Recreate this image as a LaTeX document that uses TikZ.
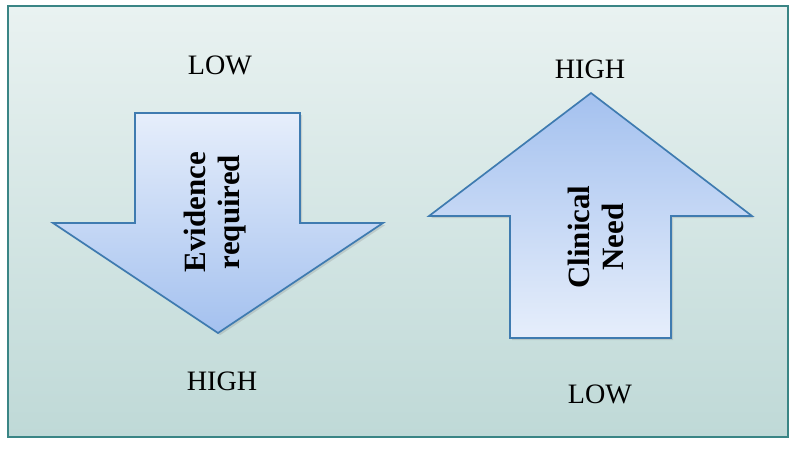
\documentclass[tikz,border=0pt]{standalone}
\usepackage{fontspec}
\setmainfont{Liberation Serif}
\usepackage{tikz}
\usetikzlibrary{shadows}

\definecolor{panelTop}{HTML}{E9F2F1}
\definecolor{panelBot}{HTML}{BFD9D7}
\definecolor{panelLine}{HTML}{3A8585}
\definecolor{arrowDark}{HTML}{A4C1EF}
\definecolor{arrowLight}{HTML}{E6EEFB}
\definecolor{arrowLine}{HTML}{3F7BB0}

\tikzset{
	panel/.style={draw=panelLine, line width=1.4pt, top color=panelTop, bottom color=panelBot},
	bigarrow/.style={draw=arrowLine, line width=1.2pt, line join=miter,
		drop shadow={opacity=0.25, shadow xshift=1.5pt, shadow yshift=-1.5pt}},
	level/.style={font=\fontsize{20}{24}\selectfont},
	axis label/.style={rotate=90, align=center, font=\fontsize{22}{24}\selectfont\bfseries}
}

\begin{document}
\begin{tikzpicture}[x=0.025cm, y=-0.025cm]
\useasboundingbox (0,0) rectangle (800,448);
\path[panel] (8,6) rectangle (788,437);

% evidence arrow, pointing down
\path[bigarrow, top color=arrowLight, bottom color=arrowDark]
(135,113) -- (300,113) -- (300,223) -- (383,223) -- (218,333)
-- (53,223) -- (135,223) -- cycle;
\node[axis label] (evid) at (215,212) {Evidence\\required};
\node[level] (evidLow) at (220,65) {LOW};
\node[level] (evidHigh) at (222,381) {HIGH};

% clinical need arrow, pointing up
\path[bigarrow, top color=arrowDark, bottom color=arrowLight]
(591,93) -- (752,216) -- (671,216) -- (671,338) -- (510,338)
-- (510,216) -- (429,216) -- cycle;
\node[axis label] (need) at (596,237) {Clinical\\Need};
\node[level] (needHigh) at (590,69) {HIGH};
\node[level] (needLow) at (600,394) {LOW};
\end{tikzpicture}
\end{document}
